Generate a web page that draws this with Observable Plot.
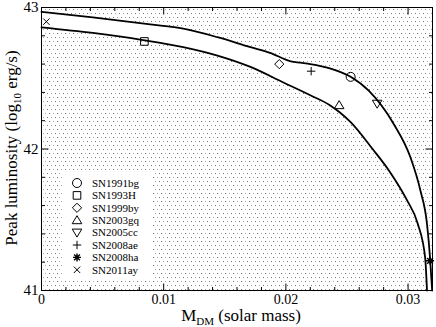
<!DOCTYPE html>
<html><head><meta charset="utf-8">
<script src="https://cdn.jsdelivr.net/npm/d3@7"></script>
<script src="https://cdn.jsdelivr.net/npm/@observablehq/plot@0.6"></script>
<style>
html,body{margin:0;padding:0;background:#fff;}
#wrap{position:relative;width:436px;height:327px;font-family:"Liberation Serif","Times New Roman",serif;}
#legend{position:absolute;left:62px;top:172px;width:90px;height:106px;background:#fff;}
</style></head><body>
<svg width="0" height="0" style="position:absolute">
<defs><pattern id="dots" patternUnits="userSpaceOnUse" width="8" height="8">
<rect x="1" y="1" width="1" height="1" fill="#777"/>
<rect x="5" y="1" width="1" height="1" fill="#aaa"/>
<rect x="3" y="5" width="1" height="1" fill="#aaa"/>
<rect x="7" y="5" width="1" height="1" fill="#777"/>
</pattern></defs></svg>
<div id="wrap"><div id="legend"></div></div>
<script>
// ---- data ----
const xTicks = [0, 0.01, 0.02, 0.03];
const xTickLabels = ["0", "0.01", "0.02", "0.03"];
const xMinor = [0.002,0.004,0.006,0.008,0.012,0.014,0.016,0.018,0.022,0.024,0.026,0.028];
const yTicks = [41, 42, 43];
const yTickLabels = ["41", "42", "43"];
const yMinor = [41.2,41.4,41.6,41.8,42.2,42.4,42.6,42.8];

const upperM = [0, 0.0042, 0.0089, 0.0116, 0.0144, 0.0171, 0.0187, 0.0204, 0.0212, 0.0220, 0.0236, 0.0253, 0.0268, 0.0288, 0.0302, 0.0310, 0.03155, 0.0318, 0.03197];
const upperL = [42.97, 42.93, 42.88, 42.85, 42.79, 42.72, 42.68, 42.62, 42.61, 42.60, 42.57, 42.51, 42.41, 42.18, 41.94, 41.71, 41.47, 41.23, 41.0];
const lowerM = [0, 0.0042, 0.0083, 0.0116, 0.0144, 0.0171, 0.0198, 0.0220, 0.0236, 0.0244, 0.0253, 0.0271, 0.0285, 0.0299, 0.0308, 0.0314, 0.03155];
const lowerL = [42.86, 42.82, 42.77, 42.72, 42.66, 42.58, 42.47, 42.38, 42.31, 42.26, 42.19, 42.00, 41.84, 41.64, 41.47, 41.23, 41.0];

const snNames = ["SN1991bg","SN1993H","SN1999by","SN2003gq","SN2005cc","SN2008ae","SN2008ha","SN2011ay"];
const snM = [0.0253, 0.00842, 0.01946, 0.02436, 0.02747, 0.02207, 0.0318, 0.0004];
const snL = [42.51, 42.76, 42.60, 42.31, 42.32, 42.55, 41.21, 42.90];

// ---- styles ----
const S = {
  circle: {draw(c){ const r=4.5; c.moveTo(r,0); c.arc(0,0,r,0,2*Math.PI); c.closePath(); }},
  square: {draw(c){ const h=3.8; c.rect(-h,-h,2*h,2*h); }},
  diamond: {draw(c){ const h=4.6; c.moveTo(0,-h); c.lineTo(h,0); c.lineTo(0,h); c.lineTo(-h,0); c.closePath(); }},
  triUp: {draw(c){ c.moveTo(0,-4.5); c.lineTo(4.8,3.5); c.lineTo(-4.8,3.5); c.closePath(); }},
  triDown: {draw(c){ c.moveTo(0,4.5); c.lineTo(4.8,-3.5); c.lineTo(-4.8,-3.5); c.closePath(); }},
  plus: {draw(c){ const h=4.2; c.moveTo(-h,0); c.lineTo(h,0); c.moveTo(0,-h); c.lineTo(0,h); }},
  asterisk: {draw(c){ const h=4, d=2.9; c.moveTo(-h,0); c.lineTo(h,0); c.moveTo(0,-h); c.lineTo(0,h); c.moveTo(-d,-d); c.lineTo(d,d); c.moveTo(-d,d); c.lineTo(d,-d); }},
  times: {draw(c){ const h=3.2; c.moveTo(-h,-h); c.lineTo(h,h); c.moveTo(-h,h); c.lineTo(h,-h); }}
};
const symKeys = ["circle","square","diamond","triUp","triDown","plus","asterisk","times"];
const seg = (dx, dy) => ({draw(c){ c.moveTo(0,0); c.lineTo(dx,dy); }});

const upper = upperM.map((m,i)=>({m, l: upperL[i]}));
const lower = lowerM.map((m,i)=>({m, l: lowerL[i]}));
const sn = snNames.map((name,i)=>({name, m: snM[i], l: snL[i], sym: S[symKeys[i]]}));
const xDomain = [0, 0.032], yDomain = [41, 43];

const tickMarks = (vals, ch, anchor, dx, dy) =>
  Plot.dot(vals, {[ch]: d => d, frameAnchor: anchor, symbol: seg(dx, dy), stroke: "black", fill: "none", strokeWidth: 1});

const plot = Plot.plot({
  width: 436, height: 327,
  marginLeft: 41, marginRight: 4, marginTop: 7, marginBottom: 37,
  style: {fontFamily: "'Liberation Serif','Times New Roman',serif", fontSize: "15px", background: "white", color: "black"},
  x: {domain: xDomain, ticks: xTicks, tickFormat: d => xTickLabels[xTicks.indexOf(d)], tickSize: 0, tickPadding: 4, label: null},
  y: {domain: yDomain, ticks: yTicks, tickFormat: d => yTickLabels[yTicks.indexOf(d)], tickSize: 0, tickPadding: 3, label: null},
  marks: [
    Plot.areaY(upper, {x: "m", y1: "l", y2: yDomain[1], fill: "url(#dots)", curve: "monotone-x"}),
    Plot.areaY(lower, {x: "m", y1: yDomain[0], y2: "l", fill: "url(#dots)", curve: "monotone-x"}),
    Plot.line(upper, {x: "m", y: "l", stroke: "black", strokeWidth: 1.8, curve: "monotone-x"}),
    Plot.line(lower, {x: "m", y: "l", stroke: "black", strokeWidth: 1.8, curve: "monotone-x"}),
    ...sn.map(d => Plot.dot([d], {x: "m", y: "l", symbol: d.sym, stroke: "black", fill: "none", strokeWidth: d.name === "SN2008ha" ? 1.4 : 1})),
    tickMarks(xTicks, "x", "bottom", 0, -7),
    tickMarks(xMinor, "x", "bottom", 0, -3.5),
    tickMarks(xTicks, "x", "top", 0, 7),
    tickMarks(xMinor, "x", "top", 0, 3.5),
    tickMarks(yTicks, "y", "left", 7, 0),
    tickMarks(yMinor, "y", "left", 3.5, 0),
    tickMarks(yTicks, "y", "right", -7, 0),
    tickMarks(yMinor, "y", "right", -3.5, 0),
    Plot.frame({stroke: "black", strokeWidth: 1})
  ]
});
plot.style.position = "absolute";
plot.style.left = "0px";
plot.style.top = "0px";
const wrap = document.getElementById("wrap");
wrap.insertBefore(plot, wrap.firstChild);

// x tick labels slightly smaller than y tick labels, as in the reference
d3.select(plot).selectAll("[aria-label='x-axis tick label'] text").style("font-size", "14px");

// axis titles
const svg = d3.select(plot);
const xl = svg.append("text").attr("x", 241).attr("y", 321).attr("text-anchor", "middle")
  .style("font-size", "17px").attr("fill", "black");
xl.append("tspan").text("M");
xl.append("tspan").attr("dy", 4).style("font-size", "11px").text("DM");
xl.append("tspan").attr("dy", -4).text(" (solar mass)");

const yl = svg.append("text").attr("transform", "translate(11,148) rotate(-90)").attr("dy", "0.35em")
  .attr("text-anchor", "middle").style("font-size", "17px").attr("fill", "black");
yl.append("tspan").text("Peak luminosity (log");
yl.append("tspan").attr("dy", 4).style("font-size", "11px").text("10");
yl.append("tspan").attr("dy", -4).text(" erg/s)");

// legend
const lg = d3.select("#legend").append("svg").attr("width", 90).attr("height", 106)
  .style("font-family", "'Liberation Serif','Times New Roman',serif");
sn.forEach((d, i) => {
  const cy = 11 + i * 12.4;
  lg.append("path").attr("transform", `translate(15,${cy})`).attr("d", d3.symbol(d.sym)())
    .attr("fill", "none").attr("stroke", "black").attr("stroke-width", d.name === "SN2008ha" ? 1.4 : 1);
  lg.append("text").attr("x", 30).attr("y", cy).attr("dy", "0.35em").style("font-size", "11px").text(d.name);
});
</script>
</body></html>
